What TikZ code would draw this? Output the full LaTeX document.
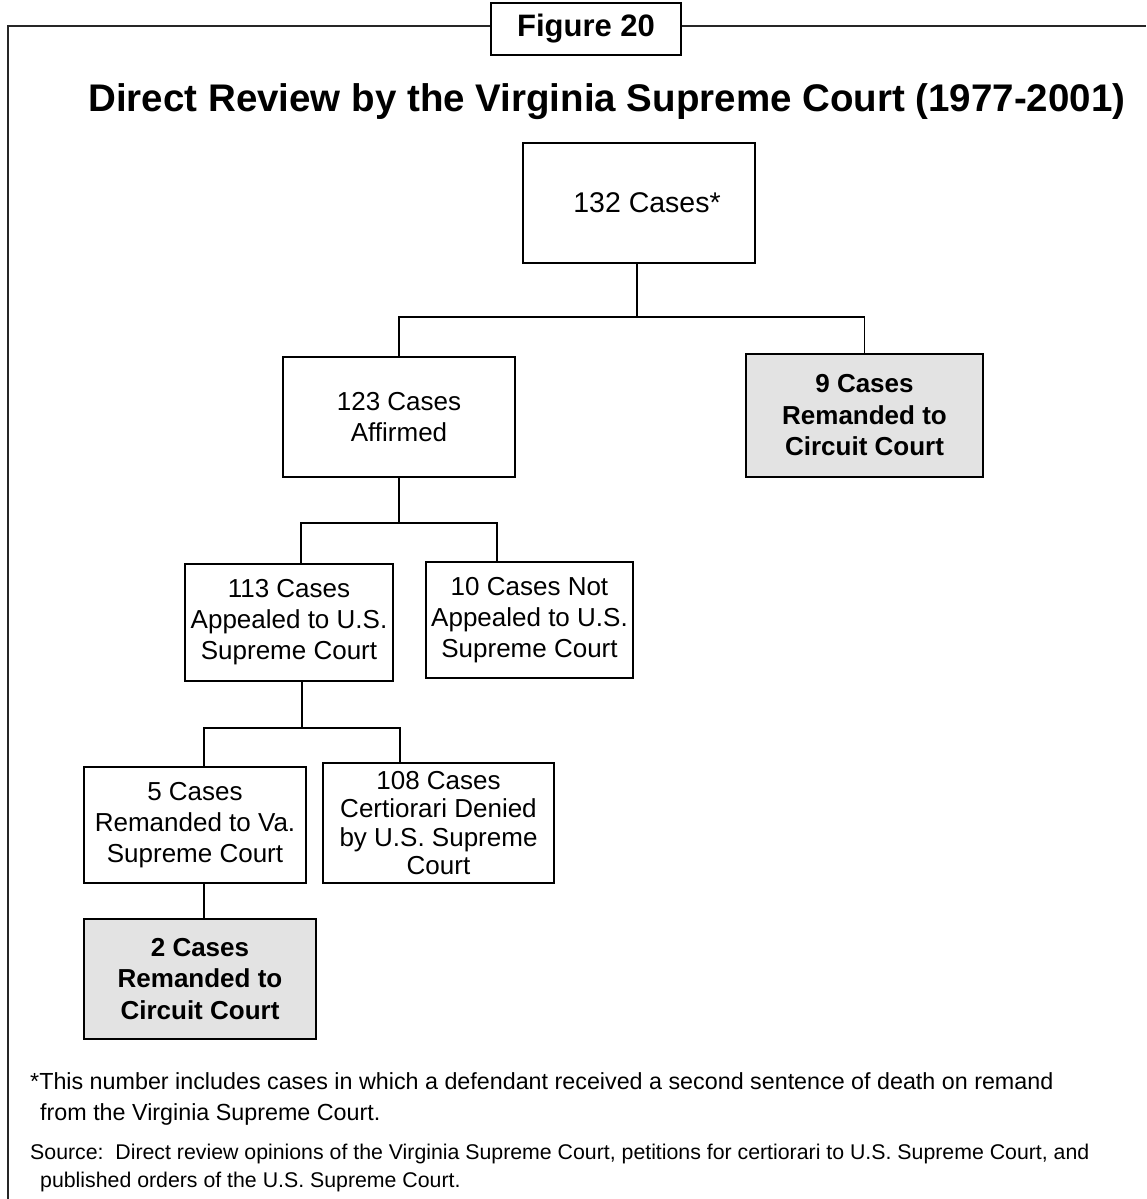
\documentclass[tikz,border=0pt]{standalone}
\usepackage{fontspec}
\setmainfont{Liberation Sans}
\begin{document}
\begin{tikzpicture}[x=1pt,y=-1pt,
  framebox/.style={line width=2.4pt, draw=black!85},
  box/.style={draw, line width=2pt, inner sep=0pt, align=center, fill=white,
              font=\fontsize{26}{31}\selectfont},
  shadedbox/.style={box, fill=black!11, font=\bfseries\fontsize{26}{31.5}\selectfont},
  figbox/.style={draw, line width=2pt, fill=white, inner sep=0pt,
              minimum width=190pt, minimum height=52pt, font=\bfseries\fontsize{31}{36}\selectfont},
  titletext/.style={inner sep=0pt, font=\bfseries\fontsize{38.5}{44}\selectfont},
  notetext/.style={inner sep=0pt, anchor=base west, font=\fontsize{23.3}{28}\selectfont},
  srctext/.style={inner sep=0pt, anchor=base west, font=\fontsize{21.3}{26}\selectfont},
  conn/.style={line width=1.8pt}]
\useasboundingbox (0,0) rectangle (1146,1199);
% outer frame (open at right and bottom)
\draw[framebox] (8,1199) -- (8,26) -- (1146,26);
\node[figbox] (fig) at (586,29) {Figure 20};
\node[titletext, anchor=base] (title) at (607,111) {Direct Review by the Virginia Supreme Court (1977-2001)};

% boxes
\node[box, minimum width=232pt, minimum height=120pt, font=\fontsize{28.5}{33}\selectfont] (top) at (639,203) {\hspace*{16pt}132 Cases*};
\node[box, minimum width=232pt, minimum height=120pt] (aff) at (399,417) {123 Cases\\Affirmed};
\node[shadedbox, minimum width=237pt, minimum height=123pt] (rem9) at (864.5,415.5) {9 Cases\\Remanded to\\Circuit Court};
\node[box, minimum width=208pt, minimum height=117pt] (app113) at (289,622.5) {113 Cases\\Appealed to U.S.\\Supreme Court};
\node[box, minimum width=207pt, minimum height=116pt] (not10) at (529.5,620) {10 Cases Not\\Appealed to U.S.\\Supreme Court};
\node[box, minimum width=222pt, minimum height=116pt] (rem5) at (195,825) {5 Cases\\Remanded to Va.\\Supreme Court};
\node[box, minimum width=231pt, minimum height=120pt, font=\fontsize{26}{28.5}\selectfont] (cert108) at (438.5,823) {108 Cases\\Certiorari Denied\\by U.S. Supreme\\Court};
\node[shadedbox, minimum width=232pt, minimum height=120pt] (rem2) at (200,979) {2 Cases\\Remanded to\\Circuit Court};

% junctions
\coordinate (j1) at (637,317);
\coordinate (j2) at (399,523);
\coordinate (jl2) at (301,523);
\coordinate (jr2) at (497,523);
\coordinate (j3) at (302,728);
\coordinate (jl3) at (204,728);
\coordinate (jr3) at (400,728);

% connectors
\draw[conn] (top.south -| j1) -- (j1);
\draw[conn] (aff.north) |- (j1) -| (rem9.north);
\draw[conn] (aff.south) -- (j2);
\draw[conn] (jl2 |- app113.north) -- (jl2) -- (jr2) -- (jr2 |- not10.north);
\draw[conn] (app113.south -| j3) -- (j3);
\draw[conn] (jl3 |- rem5.north) -- (jl3) -- (jr3) -- (jr3 |- cert108.north);
\draw[conn] (rem5.south -| jl3) -- (rem2.north -| jl3);

% notes
\node[notetext] (note1) at (30,1089) {*This number includes cases in which a defendant received a second sentence of death on remand};
\node[notetext] (note2) at (40,1120) {from the Virginia Supreme Court.};
\node[srctext] (src1) at (30,1159) {Source:\ \ Direct review opinions of the Virginia Supreme Court, petitions for certiorari to U.S. Supreme Court, and};
\node[srctext] (src2) at (40,1187) {published orders of the U.S. Supreme Court.};
\end{tikzpicture}
\end{document}
